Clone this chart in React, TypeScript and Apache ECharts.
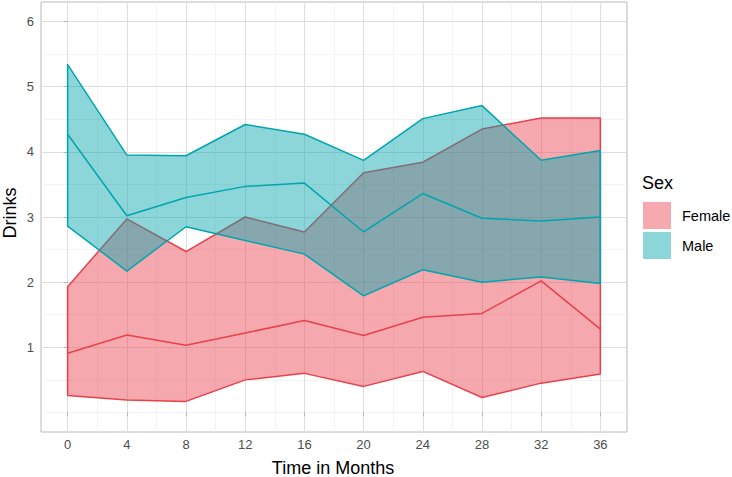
import React, { useEffect, useRef } from "react";
import * as echarts from "echarts";

const months = [0, 4, 8, 12, 16, 20, 24, 28, 32, 36];
const femaleLower = [0.26, 0.19, 0.17, 0.5, 0.6, 0.4, 0.63, 0.23, 0.45, 0.59];
const femaleMean = [0.91, 1.19, 1.03, 1.22, 1.41, 1.18, 1.46, 1.52, 2.02, 1.28];
const femaleUpper = [1.93, 2.97, 2.47, 3.0, 2.77, 3.68, 3.84, 4.35, 4.52, 4.52];
const maleLower = [2.86, 2.17, 2.85, 2.64, 2.43, 1.79, 2.19, 2.0, 2.08, 1.98];
const maleMean = [4.27, 3.02, 3.3, 3.47, 3.52, 2.77, 3.36, 2.98, 2.94, 3.0];
const maleUpper = [5.34, 3.95, 3.94, 4.42, 4.27, 3.87, 4.51, 4.71, 3.87, 4.02];

const xTicks = [0, 4, 8, 12, 16, 20, 24, 28, 32, 36];
const xMinor = [2, 6, 10, 14, 18, 22, 26, 30, 34];
const yTicks = [1, 2, 3, 4, 5, 6];
const yMinor = [0, 0.5, 1.5, 2.5, 3.5, 4.5, 5.5];

const FEMALE_LINE = "#E8414C";
const FEMALE_FILL = "rgba(232,65,76,0.45)";
const MALE_LINE = "#00A5AE";
const MALE_FILL = "rgba(0,165,174,0.45)";
const FONT = "Liberation Sans, Arial, sans-serif";

function ribbon(name: string, lower: number[], upper: number[], fill: string, stroke: string) {
  return {
    type: "custom",
    name,
    data: [[0, 0]],
    silent: true,
    z: 3,
    renderItem: (_p: any, api: any) => {
      const pts: number[][] = [];
      months.forEach((m, i) => pts.push(api.coord([m, upper[i]])));
      for (let i = months.length - 1; i >= 0; i--) pts.push(api.coord([months[i], lower[i]]));
      return {
        type: "polygon",
        shape: { points: pts },
        style: { fill, stroke, lineWidth: 1.5, lineJoin: "round" },
      };
    },
  };
}

function meanLine(name: string, vals: number[], color: string) {
  return {
    type: "line",
    name,
    data: months.map((m, i) => [m, vals[i]]),
    symbol: "none",
    silent: true,
    z: 4,
    lineStyle: { color, width: 1.5 },
  };
}

export default function App() {
  const ref = useRef<HTMLDivElement>(null);
  useEffect(() => {
    if (!ref.current) return;
    const chart = echarts.init(ref.current, null, { renderer: "svg" });
    const gridLines = [
      ...xMinor.map((v) => ({ xAxis: v, lineStyle: { color: "#F0F0F0", width: 0.8, type: "solid" } })),
      ...yMinor.map((v) => ({ yAxis: v, lineStyle: { color: "#F0F0F0", width: 0.8, type: "solid" } })),
      ...xTicks.map((v) => ({ xAxis: v, lineStyle: { color: "#DEDEDE", width: 1, type: "solid" } })),
      ...yTicks.map((v) => ({ yAxis: v, lineStyle: { color: "#DEDEDE", width: 1, type: "solid" } })),
    ];
    chart.setOption({
      animation: false,
      backgroundColor: "#ffffff",
      grid: {
        left: 41,
        right: 105,
        top: 2,
        bottom: 45,
        outerBoundsMode: "none",
        containLabel: false,
        show: true,
        borderColor: "#B8B8B8",
        borderWidth: 1,
        backgroundColor: "#ffffff",
      },
      xAxis: {
        type: "value",
        min: -1.8,
        max: 37.8,
        axisLine: { show: false },
        splitLine: { show: false },
        axisTick: { show: true, customValues: xTicks, length: 4, lineStyle: { color: "#B3B3B3" } },
        axisLabel: { customValues: xTicks, color: "#4D4D4D", fontSize: 13, margin: 6, fontFamily: FONT },
      },
      yAxis: {
        type: "value",
        min: -0.3,
        max: 6.3,
        axisLine: { show: false },
        splitLine: { show: false },
        axisTick: { show: true, customValues: yTicks, length: 4, lineStyle: { color: "#B3B3B3" } },
        axisLabel: { customValues: yTicks, color: "#4D4D4D", fontSize: 13, margin: 7, fontFamily: FONT },
      },
      series: [
        {
          type: "line",
          name: "grid",
          data: [],
          silent: true,
          z: 1,
          markLine: {
            silent: true,
            z: 0,
            symbol: "none",
            label: { show: false },
            animation: false,
            data: gridLines,
          },
        },
        ribbon("Female", femaleLower, femaleUpper, FEMALE_FILL, FEMALE_LINE),
        meanLine("Female mean", femaleMean, FEMALE_LINE),
        ribbon("Male", maleLower, maleUpper, MALE_FILL, MALE_LINE),
        meanLine("Male mean", maleMean, MALE_LINE),
      ],
      graphic: [
        {
          type: "text",
          x: 333,
          y: 468,
          style: { text: "Time in Months", fontSize: 18, fill: "#000", fontFamily: FONT, align: "center", verticalAlign: "middle" },
        },
        {
          type: "text",
          x: 10,
          y: 213,
          rotation: Math.PI / 2,
          style: { text: "Drinks", fontSize: 18, fill: "#000", fontFamily: FONT, align: "center", verticalAlign: "middle" },
        },
        {
          type: "text",
          x: 642,
          y: 183,
          style: { text: "Sex", fontSize: 18, fill: "#000", fontFamily: FONT, verticalAlign: "middle" },
        },
        { type: "rect", shape: { x: 643, y: 202, width: 28, height: 27 }, style: { fill: FEMALE_FILL } },
        { type: "rect", shape: { x: 643, y: 232, width: 28, height: 27 }, style: { fill: MALE_FILL } },
        {
          type: "text",
          x: 682,
          y: 216,
          style: { text: "Female", fontSize: 14.5, fill: "#000", fontFamily: FONT, verticalAlign: "middle" },
        },
        {
          type: "text",
          x: 682,
          y: 246,
          style: { text: "Male", fontSize: 14.5, fill: "#000", fontFamily: FONT, verticalAlign: "middle" },
        },
      ],
    });
    return () => chart.dispose();
  }, []);
  return <div ref={ref} style={{ position: "absolute", left: 0, top: 0, width: 732, height: 477 }} />;
}
